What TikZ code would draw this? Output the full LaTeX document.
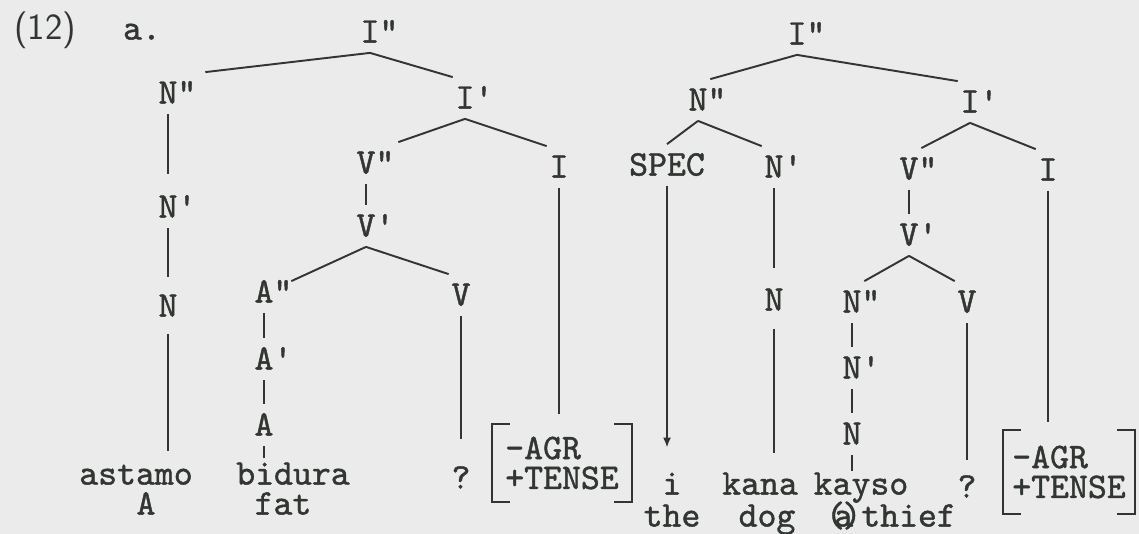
\documentclass[tikz,border=0pt]{standalone}
\usepackage{fontspec}
\setmonofont{lmmono10-regular.otf}[FakeBold=1.2]
\usetikzlibrary{arrows.meta}

\definecolor{paper}{RGB}{234,235,234}
\definecolor{ink}{RGB}{50,54,50}

\newcommand{\onebar}{\rlap{\textquotesingle}}
\newcommand{\twobar}{\rlap{\textquotedbl}}

\begin{document}
\begin{tikzpicture}[x=0.02cm,y=-0.02cm,
  every node/.style={text=ink, font=\fontsize{20.5}{17}\ttfamily\selectfont,
    inner xsep=0.5mm, inner ysep=2mm, text height=12pt, text depth=0pt},
  word/.style={inner ysep=0.5mm},
  feat/.style={align=left, text height={}, text depth={}},
  branch/.style={draw=ink, line width=1.1pt},
  brack/.style={draw=ink, line width=1.2pt}]

\path[use as bounding box, fill=paper] (0,0) rectangle (1139,534);

\node (num) at (45,29) [font=\fontsize{21}{25}\sffamily\selectfont] {(12)};
\node (ex) at (142,29) {a.};

% left tree
\node (lipp) at (370,32) {I\twobar};
\node (lnpp) at (168,93) {N\twobar};
\node (lip) at (465,98) {I\onebar};
\node (lvpp) at (366,163) {V\twobar};
\node (li) at (559,167) {I};
\node (lnp) at (168,207) {N\onebar};
\node (lvp) at (366,226) {V\onebar};
\node (lapp) at (264,292) {A\twobar};
\node (lv) at (461,295) {V};
\node (ln) at (168,306) {N};
\node (lap) at (264,359) {A\onebar};
\node (la) at (264,425) {A};
\node[word] (astamo) at (136,474) {astamo};
\node[word] (bidura) at (293,474) {bidura};
\node[word] (lq) at (461,478) {?};
\node[feat, minimum width=2.8cm, minimum height=1.56cm] (lf) at (562,463) {-AGR\\+TENSE};
\node[word] (glossa) at (146,504) {A};
\node[word] (fat) at (283,504) {fat};

\draw[branch] (lipp.south) -- ([xshift=5mm]lnpp.north east);
\draw[branch] (lipp.south) -- (lip.north west);
\draw[branch] (lip.south) -- ([xshift=4mm]lvpp.north east);
\draw[branch] (lip.south) -- (li.north west);
\draw[branch] (lvp.south) -- ([xshift=3mm,yshift=-2mm]lapp.north east);
\draw[branch] (lvp.south) -- (lv.north west);

\draw[branch, shorten >=2.4mm] (lnpp.south) -- (lnpp.south |- lnp.north);
\draw[branch, shorten >=1.6mm] (lnp.south) -- (lnp.south |- ln.north);
\draw[branch, shorten <=1.4mm, shorten >=2mm] (ln.south) -- (ln.south |- astamo.north);
\draw[branch] (lvpp.south) -- (lvpp.south |- lvp.north);
\draw[branch] (lapp.south) -- (lapp.south |- lap.north);
\draw[branch] (lap.south) -- (lap.south |- la.north);
\draw[branch, shorten >=0.6mm] (la.south) -- (la.south |- bidura.north);
\draw[branch, shorten >=5.2mm] (lv.south) -- (lv.south |- lq.north);
\draw[branch, shorten >=2mm] (li.south) -- (li.south |- lf.north);

\draw[brack] ([xshift=3.6mm]lf.north west) -- (lf.north west) -- (lf.south west) -- ([xshift=3.6mm]lf.south west);
\draw[brack] ([xshift=-3.6mm]lf.north east) -- (lf.north east) -- (lf.south east) -- ([xshift=-3.6mm]lf.south east);

% right tree
\node (ripp) at (797,34) {I\twobar};
\node (rnpp) at (698,100) {N\twobar};
\node (rip) at (970,102) {I\onebar};
\node (spec) at (667,165) {SPEC};
\node (rnp) at (774,167) {N\onebar};
\node (rvpp) at (909,169) {V\twobar};
\node (ri) at (1048,170) {I};
\node (rvp) at (909,235) {V\onebar};
\node (rn) at (774,300) {N};
\node (rnpp2) at (852,302) {N\twobar};
\node (rv) at (967,302) {V};
\node (rnp2) at (852,368) {N\onebar};
\node (rn2) at (852,434) {N};
\node[word] (i) at (672,484) {i};
\node[word] (kana) at (760,484) {kana};
\node[word] (kayso) at (861,484) {kayso};
\node[word] (rq) at (967,487) {?};
\node[feat, minimum width=2.64cm, minimum height=1.68cm] (rf) at (1069,472) {-AGR\\+TENSE};
\node[word] (the) at (672,516) {the};
\node[word] (dog) at (767,516) {dog};
\node[word] (thief) at (891,516) {(\kern-.3em a\kern-.3em)thief};

\draw[branch] (ripp.south) -- (rnpp.north east);
\draw[branch] (ripp.south) -- (rip.north west);
\draw[branch] (rnpp.south) -- (spec.north);
\draw[branch] (rnpp.south) -- (rnp.north west);
\draw[branch] (rip.south) -- (rvpp.north east);
\draw[branch] (rip.south) -- (ri.north west);
\draw[branch] (rvp.south) -- (rnpp2.north east);
\draw[branch] (rvp.south) -- (rv.north west);

\draw[branch, -{Latex[length=2mm,width=1.6mm]}, shorten >=4.6mm] (spec.south) -- (spec.south |- i.north);
\draw[branch, shorten >=2.2mm] (rnp.south) -- (rnp.south |- rn.north);
\draw[branch, shorten <=1.6mm, shorten >=3.6mm] (rn.south) -- (rn.south |- kana.north);
\draw[branch] (rvpp.south) -- (rvpp.south |- rvp.north);
\draw[branch] (rnpp2.south) -- (rnpp2.south |- rnp2.north);
\draw[branch] (rnp2.south) -- (rnp2.south |- rn2.north);
\draw[branch] (rn2.south) -- (rn2.south |- kayso.north);
\draw[branch, shorten >=2.8mm] (rv.south) -- (rv.south |- rq.north);
\draw[branch, shorten >=1.6mm] (ri.south) -- (ri.south |- rf.north);

\draw[brack] ([xshift=3.6mm]rf.north west) -- (rf.north west) -- (rf.south west) -- ([xshift=3.6mm]rf.south west);
\draw[brack] ([xshift=-3.6mm]rf.north east) -- (rf.north east) -- (rf.south east) -- ([xshift=-3.6mm]rf.south east);
\end{tikzpicture}
\end{document}
